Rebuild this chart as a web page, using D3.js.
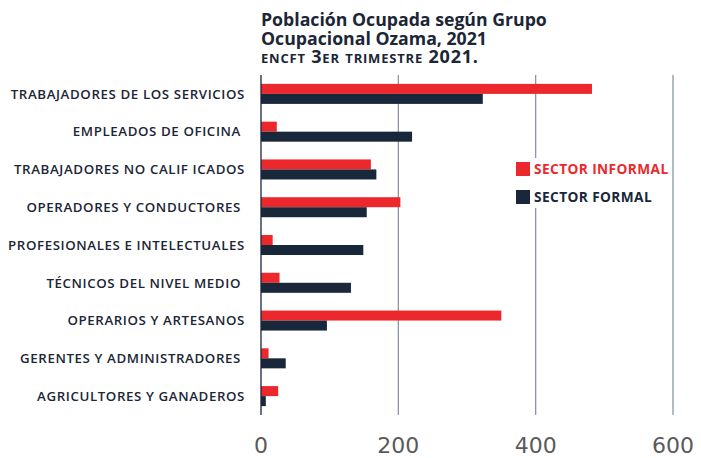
<!DOCTYPE html>
<html>
<head>
<meta charset="utf-8">
<script src="https://cdn.jsdelivr.net/npm/d3@7"></script>
<style>
  body { margin: 0; background: #fff; }
  text { font-family: "Open Sans", "Noto Sans", sans-serif; }
  .cat-label { white-space: pre; }
</style>
</head>
<body>
<div id="canvas"></div>
<script>
// categories, top to bottom
var categories = [
  "TRABAJADORES DE LOS SERVICIOS",
  "EMPLEADOS DE OFICINA ",
  "TRABAJADORES NO CALIF ICADOS",
  "OPERADORES Y CONDUCTORES ",
  "PROFESIONALES E INTELECTUALES",
  "TÉCNICOS DEL NIVEL MEDIO ",
  "OPERARIOS Y ARTESANOS",
  "GERENTES Y ADMINISTRADORES ",
  "AGRICULTORES Y GANADEROS"
];

// thousands of people
var informal = [482, 23, 160, 203, 17, 27, 350, 11, 25];
var formal   = [323, 220, 168, 154, 149, 131, 96, 36, 7];

var seriesNames = ["SECTOR INFORMAL", "SECTOR FORMAL"];
var xTicks = [0, 200, 400, 600];

var red = "#ec282c", navy = "#18273a";

var width = 701, height = 458;
var margin = {top: 75, right: 26, bottom: 43, left: 261};

var svg = d3.select("#canvas").append("svg")
  .attr("width", width)
  .attr("height", height);

// title
var title = svg.append("g").attr("transform", "translate(261,0)");
title.append("text").attr("y", 26)
  .style("font-size", "17.7px").style("font-weight", 700).attr("fill", "#1b2636")
  .text("Población Ocupada según Grupo");
title.append("text").attr("y", 45)
  .style("font-size", "17.7px").style("font-weight", 700).attr("fill", "#1b2636")
  .text("Ocupacional Ozama, 2021");
title.append("text").attr("y", 63)
  .style("font-size", "18px").style("font-weight", 700).attr("fill", "#1b2636")
  .style("font-variant", "small-caps")
  .style("letter-spacing", "0.8px")
  .text("encft 3er trimestre 2021.");

var x = d3.scaleLinear()
  .domain([0, 600])
  .range([margin.left, width - margin.right - 2]);

var y = d3.scaleBand()
  .domain(categories)
  .range([margin.top, height - margin.bottom])
  .paddingInner(0.47)
  .paddingOuter(0.235);

var sub = d3.scaleBand()
  .domain(seriesNames)
  .range([0, y.bandwidth()]);

// gridlines
svg.append("g").selectAll("line")
  .data(xTicks.slice(1))
  .enter().append("line")
  .attr("x1", function(d) { return x(d); })
  .attr("x2", function(d) { return x(d); })
  .attr("y1", margin.top)
  .attr("y2", height - margin.bottom)
  .attr("stroke", "#8d95a3")
  .attr("stroke-width", 1.3);

// tick labels
svg.append("g").selectAll("text")
  .data(xTicks)
  .enter().append("text")
  .attr("x", function(d) { return x(d); })
  .attr("y", 453)
  .attr("text-anchor", "middle")
  .style("font-family", "DejaVu Sans, sans-serif")
  .style("font-size", "22px")
  .attr("fill", "#5a5a5a")
  .text(function(d) { return d; });

// bars
var groups = svg.append("g").selectAll("g")
  .data(categories)
  .enter().append("g")
  .attr("transform", function(d) { return "translate(0," + y(d) + ")"; });

groups.append("rect")
  .attr("x", x(0))
  .attr("y", sub(seriesNames[0]))
  .attr("height", sub.bandwidth())
  .attr("width", function(d, i) { return x(informal[i]) - x(0); })
  .attr("fill", red);

groups.append("rect")
  .attr("x", x(0))
  .attr("y", sub(seriesNames[1]))
  .attr("height", sub.bandwidth())
  .attr("width", function(d, i) { return x(formal[i]) - x(0); })
  .attr("fill", navy);

// category labels
groups.append("text")
  .attr("class", "cat-label")
  .attr("x", 245)
  .attr("y", y.bandwidth() / 2)
  .attr("dy", "0.36em")
  .attr("text-anchor", "end")
  .style("font-size", "13.3px")
  .style("font-weight", 600)
  .style("letter-spacing", "0.6px")
  .attr("fill", "#1b2636")
  .text(function(d) { return d; });

// zero axis line
svg.append("line")
  .attr("x1", x(0)).attr("x2", x(0))
  .attr("y1", margin.top).attr("y2", height - margin.bottom)
  .attr("stroke", navy).attr("stroke-width", 1.3);

// legend
var legend = svg.append("g").attr("transform", "translate(516,162)");
legend.append("rect")
  .attr("x", -6).attr("y", -4).attr("width", 156).attr("height", 50)
  .attr("fill", "#fff");
var items = legend.selectAll(".item")
  .data(seriesNames)
  .enter().append("g")
  .attr("class", "item")
  .attr("transform", function(d, i) { return "translate(0," + i * 28 + ")"; });
items.append("rect")
  .attr("width", 14).attr("height", 14)
  .attr("fill", function(d, i) { return i === 0 ? red : navy; });
items.append("text")
  .attr("x", 18).attr("y", 7).attr("dy", "0.36em")
  .style("font-size", "13.7px").style("font-weight", 700)
  .style("letter-spacing", "0.4px")
  .attr("fill", function(d, i) { return i === 0 ? red : navy; })
  .text(function(d) { return d; });
</script>
</body>
</html>
